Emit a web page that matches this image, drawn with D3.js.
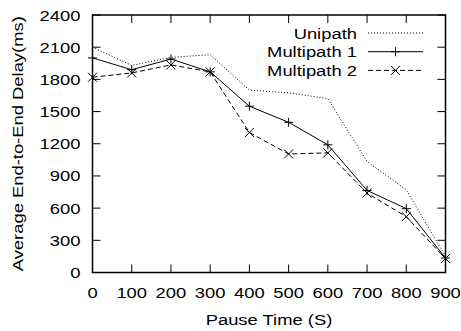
<!DOCTYPE html>
<html>
<head>
<meta charset="utf-8">
<script src="https://cdn.jsdelivr.net/npm/d3@7"></script>
<style>
  body { margin: 0; background: #fff; }
  text { font-family: "Liberation Sans", Arial, Helvetica, sans-serif; fill: #000; }
</style>
</head>
<body>
<div id="chart"></div>
<script>
const pauseTimes = [0, 100, 200, 300, 400, 500, 600, 700, 800, 900];
const unipath    = [2100, 1930, 2005, 2030, 1700, 1675, 1620, 1035, 770, 150];
const multipath1 = [2000, 1890, 1990, 1870, 1550, 1400, 1190, 765, 595, 135];
const multipath2 = [1820, 1860, 1935, 1870, 1305, 1105, 1115, 740, 520, 130];
const yTicks = [0, 300, 600, 900, 1200, 1500, 1800, 2100, 2400];
const xTicks = [0, 100, 200, 300, 400, 500, 600, 700, 800, 900];
const seriesNames = ['Unipath', 'Multipath 1', 'Multipath 2'];

const width = 461, height = 331;
const plotL = 92.5, plotR = 445.5, plotT = 15, plotB = 272.5;

const svg = d3.select('#chart').append('svg')
  .attr('width', width).attr('height', height);

const x = d3.scaleLinear().domain([0, 900]).range([plotL, plotR]);
const y = d3.scaleLinear().domain([0, 2400]).range([plotB, plotT]);

const fs = 16;
const sx = 1.15, sy = 0.95;   // the gnuplot font is wide and a bit flat
const tick = 8;

// text drawn at (tx, ty) with the stretched glyphs
function label(str, tx, ty, anchor, rot) {
  svg.append('text')
    .attr('transform', `translate(${tx},${ty})${rot ? ` rotate(${rot})` : ''} scale(${sx},${sy})`)
    .attr('text-anchor', anchor).attr('font-size', fs)
    .text(str);
}

// ticks (inward, mirrored)
const g = svg.append('g').attr('stroke', '#000').attr('stroke-width', 1);
yTicks.forEach(v => {
  g.append('line').attr('x1', plotL).attr('x2', plotL + tick).attr('y1', y(v)).attr('y2', y(v));
  g.append('line').attr('x1', plotR).attr('x2', plotR - tick).attr('y1', y(v)).attr('y2', y(v));
});
xTicks.forEach(v => {
  g.append('line').attr('x1', x(v)).attr('x2', x(v)).attr('y1', plotB).attr('y2', plotB - tick);
  g.append('line').attr('x1', x(v)).attr('x2', x(v)).attr('y1', plotT).attr('y2', plotT + tick);
});

yTicks.forEach(v => label(v, plotL - 12, y(v) + 5.5, 'end'));
xTicks.forEach(v => label(v, x(v), plotB + 25.5, 'middle'));

label('Pause Time (S)', (plotL + plotR) / 2, 325, 'middle');
label('Average End-to-End Delay(ms)', 23, (plotT + plotB) / 2, 'middle', -90);

// series
const styles = [
  { data: unipath, dash: '1,2', marker: null },
  { data: multipath1, dash: null, marker: 'plus' },
  { data: multipath2, dash: '5,3', marker: 'cross' }
];

const line = d3.line().x(d => x(d[0])).y(d => y(d[1]));

function drawMarker(sel, type, cx, cy) {
  const r = 4.5;
  if (type === 'plus') {
    sel.append('path').attr('d', `M${cx - r},${cy}H${cx + r}M${cx},${cy - r}V${cy + r}`)
      .attr('stroke', '#000').attr('stroke-width', 1).attr('fill', 'none');
  } else if (type === 'cross') {
    sel.append('path').attr('d', `M${cx - r},${cy - r}L${cx + r},${cy + r}M${cx - r},${cy + r}L${cx + r},${cy - r}`)
      .attr('stroke', '#000').attr('stroke-width', 1).attr('fill', 'none');
  }
}

styles.forEach((s, i) => {
  const pts = pauseTimes.map((t, j) => [t, s.data[j]]);
  svg.append('path').attr('d', line(pts))
    .attr('fill', 'none').attr('stroke', '#000').attr('stroke-width', 1)
    .attr('stroke-dasharray', s.dash);
  if (s.marker) pts.forEach(p => drawMarker(svg, s.marker, x(p[0]), y(p[1])));

  // legend
  const ly = 33 + i * 18.7;
  label(seriesNames[i], 357, ly + 5.5, 'end');
  svg.append('line').attr('x1', 368).attr('x2', 423).attr('y1', ly).attr('y2', ly)
    .attr('stroke', '#000').attr('stroke-width', 1).attr('stroke-dasharray', s.dash);
  if (s.marker) drawMarker(svg, s.marker, 395.5, ly);
});

// frame
svg.append('rect').attr('x', plotL).attr('y', plotT)
  .attr('width', plotR - plotL).attr('height', plotB - plotT)
  .attr('fill', 'none').attr('stroke', '#000').attr('stroke-width', 1.5);
</script>
</body>
</html>
